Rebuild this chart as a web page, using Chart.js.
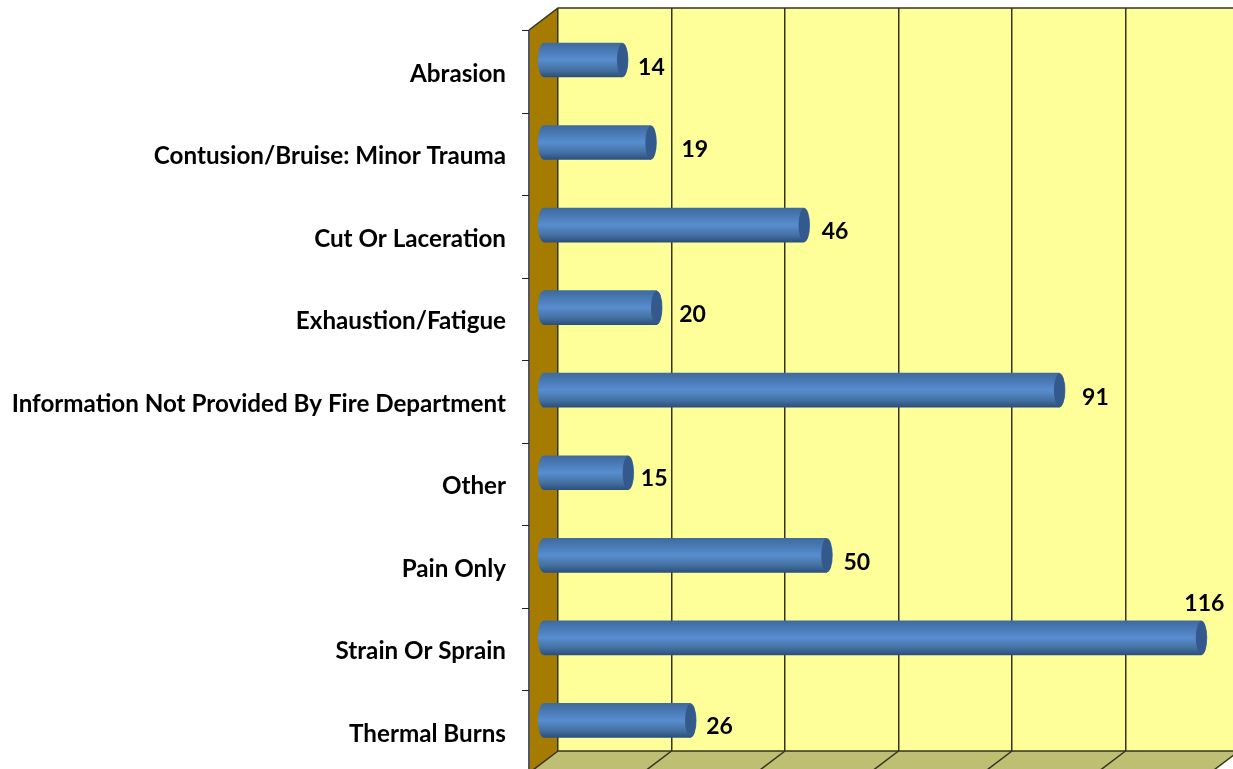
<!DOCTYPE html>
<html>
<head>
<meta charset="utf-8">
<script src="https://cdn.jsdelivr.net/npm/chart.js@4"></script>
<style>
html, body { margin: 0; background: #fff; overflow: hidden; }
#wrap { width: 1233px; height: 769px; overflow: hidden; }
canvas { display: block; }
</style>
</head>
<body>
<div id="wrap"><canvas id="myChart" width="1240" height="769"></canvas></div>
<script>
const categories = ['Abrasion', 'Contusion/Bruise: Minor Trauma', 'Cut Or Laceration', 'Exhaustion/Fatigue',
  'Information Not Provided By Fire Department', 'Other', 'Pain Only', 'Strain Or Sprain', 'Thermal Burns']
const injuries = [14, 19, 46, 20, 91, 15, 50, 116, 26]
const axisMax = 120
const axisStep = 20

// the fake 3d box: how far the front plane sits from the back wall
const depthX = 29
const depthY = 22
// bars sit between the back wall and the front plane
const barShiftX = -15
const barShiftY = 10.7
const barHeight = 34
// value labels were hand placed in the original
const labelNudge = [[29, 8], [44, 7], [31, 6], [36, 7], [36, 7], [26, 6], [30, 7], [3, -34], [29, 6]]

const font = 'Lato, sans-serif'

const box3d = {
  id: 'box3d',
  beforeDraw(chart) {
    const c = chart.ctx, a = chart.chartArea, xs = chart.scales.x, ys = chart.scales.y
    c.save()
    // back wall
    c.fillStyle = '#ffff99'
    c.fillRect(a.left, a.top, a.right - a.left, a.bottom - a.top)
    // floor
    c.fillStyle = '#bfbf73'
    c.beginPath()
    c.moveTo(a.left, a.bottom)
    c.lineTo(a.right, a.bottom)
    c.lineTo(a.right - depthX, a.bottom + depthY)
    c.lineTo(a.left - depthX, a.bottom + depthY)
    c.closePath()
    c.fill()
    // side wall
    c.fillStyle = '#a67c00'
    c.beginPath()
    c.moveTo(a.left, a.top)
    c.lineTo(a.left, a.bottom)
    c.lineTo(a.left - depthX, a.bottom + depthY)
    c.lineTo(a.left - depthX, a.top + depthY)
    c.closePath()
    c.fill()
    c.strokeStyle = '#333322'
    c.lineWidth = 1.5
    c.beginPath()
    c.moveTo(a.right, a.top)
    c.lineTo(a.left, a.top)
    c.lineTo(a.left - depthX, a.top + depthY)
    c.stroke()
    // floor lines under the grid
    xs.ticks.forEach((t, i) => {
      const x = xs.getPixelForTick(i)
      c.beginPath()
      c.moveTo(x, a.bottom)
      c.lineTo(x - depthX, a.bottom + depthY)
      c.stroke()
    })
    c.beginPath()
    c.moveTo(a.left, a.bottom)
    c.lineTo(a.right, a.bottom)
    c.stroke()
    // front axis + tick marks
    c.strokeStyle = '#55555a'
    c.lineWidth = 2
    c.beginPath()
    c.moveTo(a.left - depthX, a.top + depthY)
    c.lineTo(a.left - depthX, a.bottom + depthY)
    c.stroke()
    c.strokeStyle = '#222'
    c.lineWidth = 1
    categories.forEach((n, i) => {
      const y = Math.round(ys.getPixelForValue(i) - ys.height / categories.length / 2 + depthY) + 0.5
      c.beginPath()
      c.moveTo(a.left - depthX - 7, y)
      c.lineTo(a.left - depthX, y)
      c.stroke()
    })
    c.restore()
  },
  beforeDatasetDraw(chart) {
    const c = chart.ctx
    c.save()
    c.translate(barShiftX, barShiftY)
    // rounded back end of each cylinder
    chart.getDatasetMeta(0).data.forEach((el, i) => {
      c.fillStyle = barGradient(chart, i)
      c.beginPath()
      c.ellipse(el.base, el.y, 6, barHeight / 2, 0, 0, Math.PI * 2)
      c.fill()
    })
  },
  afterDatasetDraw(chart) {
    const c = chart.ctx
    // front end of each cylinder
    chart.getDatasetMeta(0).data.forEach((el, i) => {
      c.fillStyle = barGradient(chart, i)
      c.beginPath()
      c.ellipse(el.x, el.y, 6, barHeight / 2, 0, 0, Math.PI * 2)
      c.fill()
      c.fillStyle = '#34598c'
      c.beginPath()
      c.ellipse(el.x, el.y, 5.5, barHeight / 2 - 0.5, 0, 0, Math.PI * 2)
      c.fill()
    })
    c.restore()
    // value labels
    c.save()
    c.font = 'bold 23px ' + font
    c.fillStyle = '#000'
    c.textAlign = 'center'
    c.textBaseline = 'middle'
    chart.getDatasetMeta(0).data.forEach((el, i) => {
      c.fillText(String(injuries[i]), el.x + barShiftX + labelNudge[i][0], el.y + barShiftY + labelNudge[i][1])
    })
    c.restore()
  }
}

function barGradient(chart, i) {
  const y = chart.scales.y.getPixelForValue(i)
  if (!isFinite(y)) return '#4f81bd'
  const g = chart.ctx.createLinearGradient(0, y - barHeight / 2, 0, y + barHeight / 2)
  g.addColorStop(0, '#3e6a9e')
  g.addColorStop(0.5, '#588dd0')
  g.addColorStop(0.8, '#43709f')
  g.addColorStop(1, '#2b4f7e')
  return g
}

const ctx = document.getElementById('myChart')

const myChart = new Chart(ctx, {
  type: 'bar',
  data: {
    labels: categories,
    datasets: [{
      label: 'Injuries',
      data: injuries,
      barThickness: barHeight,
      borderWidth: 0,
      clip: false,
      backgroundColor: (context) => {
        if (!context.chart.scales.y || context.dataIndex === undefined) return '#4f81bd'
        return barGradient(context.chart, context.dataIndex)
      }
    }]
  },
  plugins: [box3d],
  options: {
    indexAxis: 'y',
    responsive: false,
    animation: false,
    layout: { padding: { top: 8, bottom: 18, right: 1, left: 0 } },
    plugins: { legend: { display: false }, tooltip: { enabled: false }, title: { display: false } },
    scales: {
      x: {
        min: 0,
        max: axisMax,
        ticks: { display: false, stepSize: axisStep },
        border: { display: false },
        grid: { color: '#333322', lineWidth: 1.5, drawTicks: false }
      },
      y: {
        afterFit: (scale) => {
          scale.width = 558
          // tick padding would otherwise eat into the wall height
          scale.paddingTop = 0
          scale.paddingBottom = 0
        },
        border: { display: false },
        grid: { display: false, drawTicks: false },
        ticks: {
          autoSkip: false,
          padding: 52,
          labelOffset: 24.5,
          color: '#000',
          font: { family: font, size: 24.2, weight: 'bold' }
        }
      }
    }
  }
})
</script>
</body>
</html>
